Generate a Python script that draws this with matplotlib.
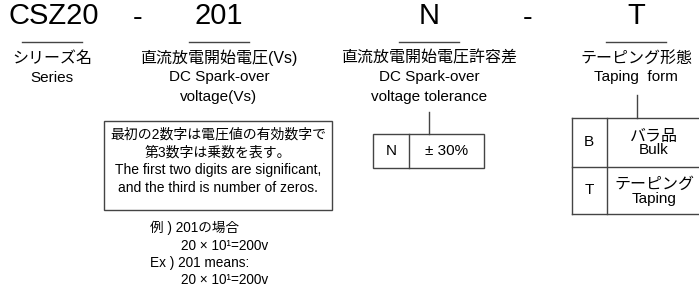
import matplotlib
matplotlib.use('Agg')
import matplotlib.pyplot as plt

plt.rcParams['font.family'] = ['Liberation Sans', 'Noto Sans CJK JP', 'DejaVu Sans']

# part number segments and their captions
code_parts = ['CSZ20', '201', 'N', 'T']
code_x = [52, 219, 429, 636]
dash_x = [138, 528]
captions = [
    ['シリーズ名', 'Series'],
    ['直流放電開始電圧(Vs)', 'DC Spark-over', 'voltage(Vs)'],
    ['直流放電開始電圧許容差', 'DC Spark-over', 'voltage tolerance'],
    ['テーピング形態', 'Taping  form'],
]

note_lines = ['最初の2数字は電圧値の有効数字で', '第3数字は乗数を表す。',
              'The first two digits are significant,',
              'and the third is number of zeros.']
example_heads = ['例 ) 201の場合', 'Ex ) 201 means:']
example_calc = '20 × 10¹=200v'

tol_code, tol_value = 'N', '± 30%'
taping_codes = ['B', 'T']
taping_names = [['バラ品', 'Bulk'], ['テーピング', 'Taping']]

LC = '#444444'

fig = plt.figure(figsize=(6.99, 2.95), dpi=100)
ax = fig.add_axes([0, 0, 1, 1])
ax.set_xlim(0, 699)
ax.set_ylim(295, 0)
ax.axis('off')

# header row
for txt, x in zip(code_parts, code_x):
    ax.text(x + (2 if txt == 'CSZ20' else 0), 16, txt, fontsize=21, ha='center', va='center')
    ax.plot([x - 30, x + 30], [42, 42], color=LC, lw=1)
for x in dash_x:
    ax.text(x, 18, '-', fontsize=21, ha='center', va='center')

for lines, x in zip(captions, code_x):
    for i, line in enumerate(lines):
        is_jp = i == 0
        ax.text(x, 58 + i * 19.5, line, fontsize=11.5 if is_jp else 11,
                ha='center', va='center')

# note box under the voltage code
ax.add_patch(plt.Rectangle((104, 121), 228, 89, fill=False, ec=LC, lw=1))
for i, line in enumerate(note_lines):
    ax.text(218, 135 + i * 17.5, line, fontsize=10, ha='center', va='center')
for i, head in enumerate(example_heads):
    y = 228 + i * 35
    ax.text(150, y, head, fontsize=9.8, ha='left', va='center')
    ax.text(181, y + 17.5, example_calc, fontsize=9.8, ha='left', va='center')

# tolerance box
ax.plot([429, 429], [112, 134], color=LC, lw=1)
ax.add_patch(plt.Rectangle((373, 134), 111, 34, fill=False, ec=LC, lw=1))
ax.plot([409, 409], [134, 168], color=LC, lw=1)
ax.text(391, 151, tol_code, fontsize=11, ha='center', va='center')
ax.text(447, 151, tol_value, fontsize=11, ha='center', va='center')

# taping table (runs off the right edge)
ax.plot([637, 637], [95, 118], color=LC, lw=1)
rows_y = [118, 167, 214]
for y in rows_y:
    ax.plot([572, 710], [y, y], color=LC, lw=1)
ax.plot([572, 572], [118, 214], color=LC, lw=1)
ax.plot([607, 607], [118, 214], color=LC, lw=1)
for i, (code, names) in enumerate(zip(taping_codes, taping_names)):
    yc = (rows_y[i] + rows_y[i + 1]) / 2
    ax.text(589, yc, code, fontsize=11, ha='center', va='center')
    ax.text(654, yc - 6, names[0], fontsize=11.5, ha='center', va='center')
    ax.text(654, yc + 8, names[1], fontsize=11, ha='center', va='center')

fig.savefig('out.png', dpi=100)
